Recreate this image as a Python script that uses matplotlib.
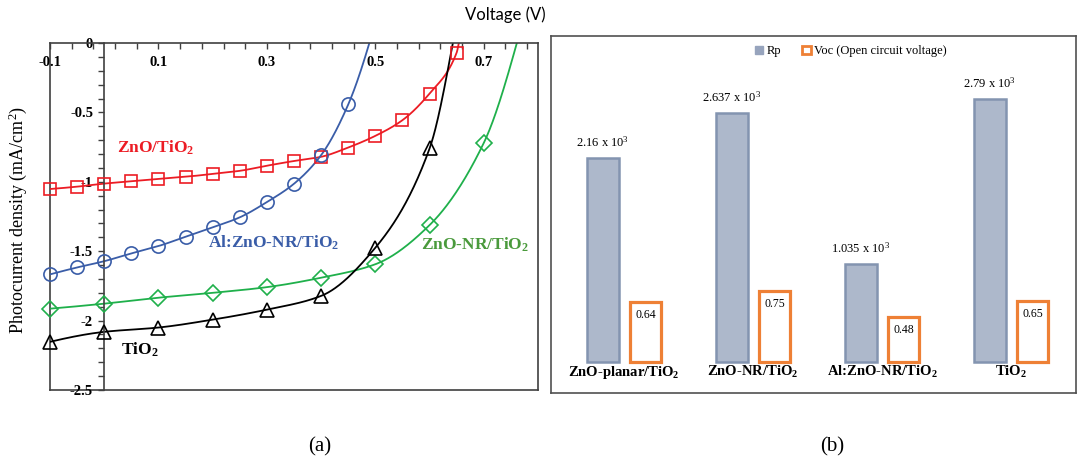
import numpy as np
import matplotlib
matplotlib.use("Agg")
import matplotlib.pyplot as plt
from matplotlib.patches import Patch
from matplotlib.ticker import FixedLocator, MultipleLocator

plt.rcParams.update({
    "font.family": "Liberation Serif",
    "mathtext.default": "regular",
    "axes.unicode_minus": False,
})

# ---------------- data: panel (a) J-V curves ----------------
V_zno = [-0.1, -0.05, 0.0, 0.05, 0.1, 0.15, 0.2, 0.25, 0.3, 0.35, 0.4, 0.45, 0.5, 0.55, 0.6, 0.65]
J_zno = [-1.052, -1.035, -1.013, -0.996, -0.979, -0.964, -0.943, -0.921, -0.884, -0.850,
         -0.820, -0.753, -0.669, -0.556, -0.364, -0.069]
Voc_zno = 0.654

V_alzno = [-0.1, -0.05, 0.0, 0.05, 0.1, 0.15, 0.2, 0.25, 0.3, 0.35, 0.4, 0.45]
J_alzno = [-1.667, -1.617, -1.572, -1.516, -1.463, -1.396, -1.328, -1.256, -1.146, -1.014, -0.808, -0.443]
Voc_alzno = 0.489

V_nr = [-0.1, 0.0, 0.1, 0.2, 0.3, 0.4, 0.5, 0.6, 0.7]
J_nr = [-1.914, -1.878, -1.835, -1.800, -1.759, -1.691, -1.594, -1.312, -0.720]
Voc_nr = 0.761

V_tio2 = [-0.1, 0.0, 0.1, 0.2, 0.3, 0.4, 0.5, 0.6]
J_tio2 = [-2.153, -2.081, -2.050, -1.993, -1.921, -1.822, -1.475, -0.760]
Voc_tio2 = 0.643

x_major = [-0.1, 0.1, 0.3, 0.5, 0.7]
x_major_labels = ["-0.1", "0.1", "0.3", "0.5", "0.7"]
y_major = [0, -0.5, -1, -1.5, -2, -2.5]
y_major_labels = ["0", "-0.5", "-1", "-1.5", "-2", "-2.5"]

# ---------------- data: panel (b) bars ----------------
categories = ["ZnO-planar/TiO$_2$", "ZnO-NR/TiO$_2$", "Al:ZnO-NR/TiO$_2$", "TiO$_2$"]
rp_values = [2.16, 2.637, 1.035, 2.79]      # x 10^3
voc_values = [0.64, 0.75, 0.48, 0.65]


def pchip(x, y, xs):
    x = np.asarray(x, float)
    y = np.asarray(y, float)
    h = np.diff(x)
    d = np.diff(y) / h
    n = len(x)
    m = np.zeros(n)
    for k in range(1, n - 1):
        if d[k - 1] * d[k] > 0:
            w1 = 2 * h[k] + h[k - 1]
            w2 = h[k] + 2 * h[k - 1]
            m[k] = (w1 + w2) / (w1 / d[k - 1] + w2 / d[k])

    def end(h0, h1, d0, d1):
        s = ((2 * h0 + h1) * d0 - h0 * d1) / (h0 + h1)
        if np.sign(s) != np.sign(d0):
            s = 0.0
        elif np.sign(d0) != np.sign(d1) and abs(s) > abs(3 * d0):
            s = 3 * d0
        return s

    m[0] = end(h[0], h[1], d[0], d[1])
    m[-1] = end(h[-1], h[-2], d[-1], d[-2])
    idx = np.clip(np.searchsorted(x, xs) - 1, 0, n - 2)
    t = (xs - x[idx]) / h[idx]
    h00 = 2 * t**3 - 3 * t**2 + 1
    h10 = t**3 - 2 * t**2 + t
    h01 = -2 * t**3 + 3 * t**2
    h11 = t**3 - t**2
    return h00 * y[idx] + h10 * h[idx] * m[idx] + h01 * y[idx + 1] + h11 * h[idx] * m[idx + 1]


W, H = 1078, 466
fig = plt.figure(figsize=(W / 100, H / 100), dpi=100)


def rect(l, t, r, b):
    return [l / W, 1 - b / H, (r - l) / W, (b - t) / H]


# ================= panel (a) =================
ax = fig.add_axes(rect(50, 43, 538, 390))
ax.set_xlim(-0.1, 0.8)
ax.set_ylim(-2.5, 0)

RED, BLUE, GREEN, BLACK = "#ec1c24", "#3a5da8", "#1fb04b", "#000000"
series = [
    (V_zno, J_zno, Voc_zno, RED, "s", 8.5),
    (V_alzno, J_alzno, Voc_alzno, BLUE, "o", 9.5),
    (V_nr, J_nr, Voc_nr, GREEN, "D", 7.8),
    (V_tio2, J_tio2, Voc_tio2, BLACK, "^", 10),
]
for V, J, voc, col, mk, ms in series:
    xl = np.append(V, voc)
    yl = np.append(J, 0.0)
    xs = np.linspace(xl[0], xl[-1], 600)
    ax.plot(xs, pchip(xl, yl, xs), color=col, lw=1.3, zorder=2)
    ax.plot(V, J, ls="none", marker=mk, ms=ms, mfc="none", mec=col, mew=1.2, zorder=3,
            clip_on=False)

spc = "#404040"
ax.spines["left"].set_position(("data", 0))
ax.spines["bottom"].set_position(("data", 0))
ax.spines["top"].set_visible(False)
for s in ["left", "bottom", "right"]:
    ax.spines[s].set_color(spc)
    ax.spines[s].set_linewidth(1.2)
ax.axvline(-0.1, color=spc, lw=1.2, clip_on=False, zorder=1)
ax.axhline(-2.5, color=spc, lw=1.2, clip_on=False, zorder=1)

ax.xaxis.set_major_locator(FixedLocator(x_major))
ax.xaxis.set_minor_locator(FixedLocator(np.arange(-0.1, 0.79, 0.04)))
ax.set_xticklabels(x_major_labels)
ax.yaxis.set_major_locator(FixedLocator(y_major))
ax.yaxis.set_minor_locator(MultipleLocator(0.1))
ax.set_yticklabels(y_major_labels)
ax.tick_params(axis="both", which="both", direction="out", length=4, width=1, color=spc)
ax.tick_params(axis="x", which="major", pad=5, labelsize=10.5)
ax.tick_params(axis="y", which="major", pad=4, labelsize=10.5)
for lbl in ax.get_xticklabels() + ax.get_yticklabels():
    lbl.set_fontweight("bold")

ax.text(0.024, -0.758, "ZnO/TiO$_2$", color=RED, fontsize=12.5, fontweight="bold", va="center")
ax.text(0.192, -1.441, "Al:ZnO-NR/TiO$_2$", color=BLUE, fontsize=12.5, fontweight="bold", va="center")
ax.text(0.585, -1.455, "ZnO-NR/TiO$_2$", color="#4a9a3c", fontsize=12.5, fontweight="bold", va="center")
ax.text(0.031, -2.21, "TiO$_2$", color=BLACK, fontsize=12.5, fontweight="bold", va="center")

fig.text(18 / W, 1 - 220 / H, "Photocurrent density (mA/cm$^2$)", rotation=90,
         ha="center", va="center", fontsize=13)
fig.text(505 / W, 1 - 15 / H, "Voltage (V)", family="Lato", fontsize=12, ha="center", va="center")

# ================= panel (b) =================
ax2 = fig.add_axes(rect(551, 36, 1076, 393))
x = np.arange(len(categories))
RP_FACE, RP_EDGE, VOC_EDGE = "#adb8cb", "#8394b0", "#ee8035"
ax2.bar(x - 0.163, rp_values, width=0.25, color=RP_FACE, edgecolor=RP_EDGE, lw=1.8, zorder=2)
ax2.bar(x + 0.167, voc_values, width=0.235, color="white", edgecolor=VOC_EDGE, lw=2.3, zorder=2)
ax2.set_xlim(-0.566, 3.504)
ax2.set_ylim(-0.329, 3.457)
ax2.set_yticks([])
ax2.set_xticks(x)
ax2.set_xticklabels(categories, fontweight="bold", fontsize=10.5)
ax2.tick_params(axis="x", length=0, pad=-21)
for s in ax2.spines.values():
    s.set_color("#505050")
    s.set_linewidth(1.2)

for xi, v in zip(x, rp_values):
    ax2.annotate(f"{v:g} x 10$^3$", (xi - 0.163, v), xytext=(0, 6), textcoords="offset points",
                 ha="center", va="bottom", fontsize=9)
for xi, v in zip(x, voc_values):
    ax2.annotate(f"{v:.2f}", (xi + 0.167, v), xytext=(0, -9.5), textcoords="offset points",
                 ha="center", va="center", fontsize=8.5)

handles = [Patch(facecolor="#97a4bd", edgecolor="#97a4bd"),
           Patch(facecolor="white", edgecolor=VOC_EDGE, lw=2)]
ax2.legend(handles, ["Rp", "Voc (Open circuit voltage)"], ncol=2, loc="upper center",
           bbox_to_anchor=(0.571, 1.005), frameon=False, fontsize=9, handlelength=0.7,
           handleheight=0.7, handletextpad=0.3, columnspacing=1.6)

fig.text(320 / W, 1 - 447 / H, "(a)", fontsize=15, ha="center", va="center")
fig.text(832 / W, 1 - 447 / H, "(b)", fontsize=15, ha="center", va="center")

fig.savefig("out.png", dpi=100)
